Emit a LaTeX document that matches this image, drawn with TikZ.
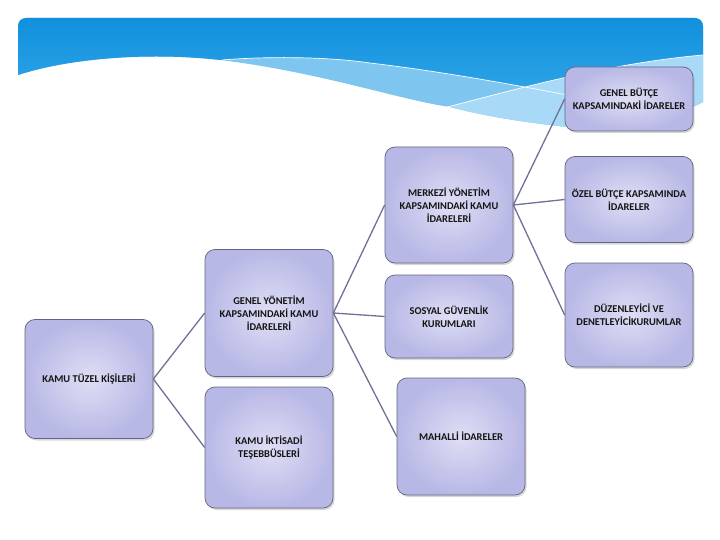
\documentclass[tikz,border=0pt]{standalone}
\usepackage{fontspec}
\setmainfont{Carlito}
\usetikzlibrary{shadows}
\definecolor{dblueA}{RGB}{14,142,220}
\definecolor{dblueB}{RGB}{58,172,234}
\definecolor{lblue}{RGB}{126,198,240}
\definecolor{llblue}{RGB}{168,217,246}
\definecolor{boxin}{RGB}{222,222,245}
\definecolor{boxout}{RGB}{184,184,230}
\definecolor{boxline}{RGB}{100,100,128}
\definecolor{linkc}{RGB}{112,112,152}
\begin{document}
\begin{tikzpicture}[x=1pt,y=-1pt,
 box/.style={draw=boxline, line width=0.7pt, rounded corners=10pt,
   shading=radial, inner color=boxin, outer color=boxout,
   drop shadow={opacity=0.3,shadow xshift=1.5pt,shadow yshift=-2pt},
   align=center, font=\bfseries\fontsize{10.4}{13.3}\selectfont,
   text=black!92, inner sep=2pt, minimum width=128pt},
 link/.style={draw=linkc, line width=1.3pt},
 wline/.style={draw=white, line width=0.7pt}]
\useasboundingbox (0,0) rectangle (720,540);
\fill[white] (0,0) rectangle (720,540);
% ---------- banner ----------
\begin{scope}
\clip[rounded corners=8pt] (18,18) rectangle (703,200);
% light band above the white wave
\fill[lblue] (10,10) -- (710,10) -- (710,102) -- (703,102)
  .. controls (660,125) and (600,130) .. (567,127)
  .. controls (520,122) and (480,115) .. (450,107)
  .. controls (400,100) and (320,72) .. (220,60)
  .. controls (150,52) and (70,58) .. (18,75) -- (10,75) -- cycle;
% lighter band below the rising line
\begin{scope}
\clip (10,10) -- (710,10) -- (710,102) -- (703,102)
  .. controls (660,125) and (600,130) .. (567,127)
  .. controls (520,122) and (480,115) .. (450,107)
  .. controls (400,100) and (320,72) .. (220,60)
  .. controls (150,52) and (70,58) .. (18,75) -- (10,75) -- cycle;
\fill[llblue] (443,108) .. controls (500,94) and (600,64) .. (703,55)
  -- (710,55) -- (710,200) -- (443,200) -- cycle;
\end{scope}
% dark blue top
\begin{scope}
\clip (10,10) -- (710,10) -- (710,55) -- (703,55)
  .. controls (600,64) and (500,94) .. (443,108)
  -- (380,200) -- (10,200) -- cycle;
\shade[top color=dblueA, bottom color=dblueB]
  (10,10) -- (710,10) -- (710,125) -- (720,125)
  .. controls (680,118) and (620,105) .. (567,95)
  .. controls (500,82) and (430,70) .. (370,63)
  .. controls (330,57) and (270,56) .. (220,60)
  .. controls (150,52) and (70,58) .. (18,75) -- (10,75) -- cycle;
\end{scope}
% thin white lines
\draw[wline] (222,60) .. controls (270,56) and (330,57) .. (370,63)
  .. controls (430,70) and (500,82) .. (567,95)
  .. controls (620,105) and (680,118) .. (720,125);
\draw[wline] (443,108) .. controls (500,94) and (600,64) .. (703,55);
\end{scope}
% ---------- boxes ----------
\node[box, minimum height=119pt] (ktk) at (89,379) {KAMU TÜZEL KİŞİLERİ};
\node[box, minimum height=127pt] (gy) at (269,313) {GENEL YÖNETİM\\KAPSAMINDAKİ KAMU\\İDARELERİ};
\node[box, minimum height=121pt] (kit) at (269,447.5) {KAMU İKTİSADİ\\TEŞEBBÜSLERİ};
\node[box, minimum height=116pt] (my) at (449,205) {MERKEZİ YÖNETİM\\KAPSAMINDAKİ KAMU\\İDARELERİ};
\node[box, minimum height=83pt] (sg) at (449,316.5) {SOSYAL GÜVENLİK\\KURUMLARI};
\node[box, minimum height=117pt] (mah) at (461,436.5) {MAHALLİ İDARELER};
\node[box, minimum height=64pt] (gb) at (629,99) {GENEL BÜTÇE\\KAPSAMINDAKİ İDARELER};
\node[box, minimum height=86pt] (ob) at (629,199.5) {ÖZEL BÜTÇE KAPSAMINDA\\İDARELER};
\node[box, minimum height=104pt] (dd) at (629,315) {DÜZENLEYİCİ VE\\DENETLEYİCİKURUMLAR};
% ---------- connectors ----------
\draw[link] (ktk.east) -- (gy.west);
\draw[link] (ktk.east) -- (kit.west);
\draw[link] (gy.east) -- (my.west);
\draw[link] (gy.east) -- (sg.west);
\draw[link] (gy.east) -- (mah.west);
\draw[link] (my.east) -- (gb.west);
\draw[link] (my.east) -- (ob.west);
\draw[link] (my.east) -- (dd.west);
\end{tikzpicture}
\end{document}
